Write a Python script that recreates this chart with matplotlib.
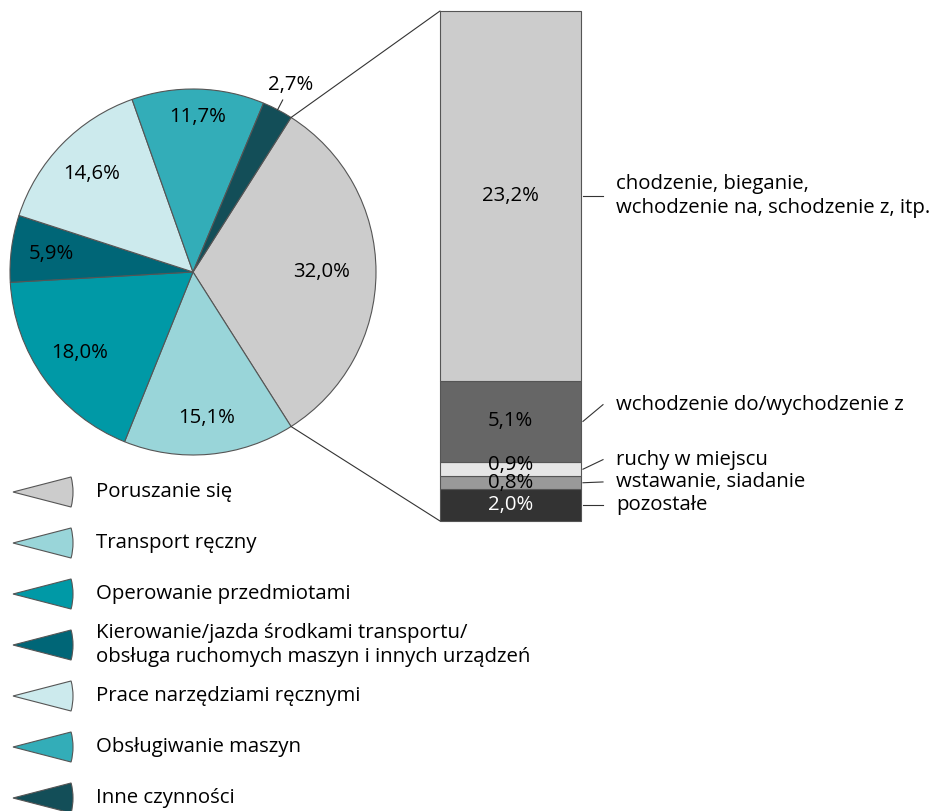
import matplotlib
matplotlib.use("Agg")
import matplotlib.pyplot as plt
from matplotlib.patches import Wedge, ConnectionPatch
import numpy as np

plt.rcParams['font.family'] = ['Open Sans', 'DejaVu Sans']

# ---------------- data ----------------
categories = [
    "Poruszanie się",
    "Transport ręczny",
    "Operowanie przedmiotami",
    "Kierowanie/jazda środkami transportu/\nobsługa ruchomych maszyn i innych urządzeń",
    "Prace narzędziami ręcznymi",
    "Obsługiwanie maszyn",
    "Inne czynności",
]
pie_values = [32.0, 15.1, 18.0, 5.9, 14.6, 11.7, 2.7]
pie_colors = ["#cccccc", "#99d5d9", "#0099a6", "#006677", "#cceaed", "#33adb8", "#134e58"]

sub_labels = [
    "pozostałe",
    "wstawanie, siadanie",
    "ruchy w miejscu",
    "wchodzenie do/wychodzenie z",
    "chodzenie, bieganie,\nwchodzenie na, schodzenie z, itp.",
]
sub_values = [2.0, 0.8, 0.9, 5.1, 23.2]
sub_colors = ["#333333", "#999999", "#e6e6e6", "#666666", "#cccccc"]
sub_text_colors = ["white", "black", "black", "black", "black"]

# layout / style (not data)
pct_radius = [0.70, 0.80, 0.76, 0.78, 0.77, 0.85, 1.15]
sub_label_y = [1.0, 2.45, 3.85, 7.3, 20.4]
sub_pct_shift = [0.0, 0.0, 0.25, 0.0, 0.0]

def fmt(v):
    return f"{v:.1f}".replace('.', ',') + '%'

W, H = 940, 811
fig = plt.figure(figsize=(W / 100, H / 100), dpi=100)
FS = 14.7
EDGE = "#555555"

def px_axes(x0, y0, x1, y1):
    return fig.add_axes([x0 / W, 1 - y1 / H, (x1 - x0) / W, (y1 - y0) / H])

# ---------------- pie ----------------
pax = px_axes(10, 89, 376, 455)
start = pie_values[0] / sum(pie_values) * 360 / 2
wedges, _ = pax.pie(pie_values, colors=pie_colors, startangle=start, counterclock=False,
                    wedgeprops=dict(edgecolor=EDGE, linewidth=0.8))
pax.set_xlim(-1, 1)
pax.set_ylim(-1, 1)
pax.set_aspect('equal')
pax.axis('off')

for w, v, r in zip(wedges, pie_values, pct_radius):
    mid = np.deg2rad((w.theta1 + w.theta2) / 2)
    pax.text(r * np.cos(mid), r * np.sin(mid), fmt(v), ha='center', va='center',
             fontsize=FS, color='black', clip_on=False)
    if r > 1:
        pax.plot([np.cos(mid), 1.06 * np.cos(mid)], [np.sin(mid), 1.06 * np.sin(mid)],
                 color='#333333', lw=0.8, clip_on=False)

# ---------------- bar ----------------
bax = px_axes(440, 11, 581, 521)
total = sum(sub_values)
bottoms = np.concatenate([[0], np.cumsum(sub_values)[:-1]])
bax.bar([0] * len(sub_values), sub_values, bottom=bottoms, width=1, color=sub_colors,
        edgecolor=EDGE, linewidth=0.8, clip_on=False)
bax.set_xlim(-0.5, 0.5)
bax.set_ylim(0, total)
bax.axis('off')

for b, v, lab, tc, ly, sh in zip(bottoms, sub_values, sub_labels, sub_text_colors,
                                 sub_label_y, sub_pct_shift):
    c = b + v / 2
    bax.text(0, c + sh, fmt(v), ha='center', va='center', fontsize=FS, color=tc)
    bax.plot([0.514, 0.656], [c, ly], color='#333333', lw=0.8, clip_on=False)
    bax.text(0.748, ly, lab, ha='left', va='center', fontsize=FS, color='black',
             linespacing=1.25, clip_on=False)

# connectors from grey wedge to bar
g = wedges[0]
for ang, yb in [(g.theta2, total), (g.theta1, 0)]:
    a = np.deg2rad(ang)
    con = ConnectionPatch(xyA=(np.cos(a), np.sin(a)), coordsA=pax.transData,
                          xyB=(-0.5, yb), coordsB=bax.transData,
                          color='#333333', lw=0.8)
    fig.add_artist(con)

# ---------------- legend ----------------
lax = fig.add_axes([0, 0, 1, 1], zorder=-1)
lax.set_xlim(0, W)
lax.set_ylim(H, 0)
lax.axis('off')
for i, (cat, col) in enumerate(zip(categories, pie_colors)):
    yc = 492 + 51 * i
    lax.add_patch(Wedge((13, yc), 60, -14.5, 14.5, facecolor=col, edgecolor=EDGE, linewidth=0.8))
    lax.text(96, yc, cat, ha='left', va='center', fontsize=FS, color='black', linespacing=1.25)

fig.savefig("out.png", dpi=100)
